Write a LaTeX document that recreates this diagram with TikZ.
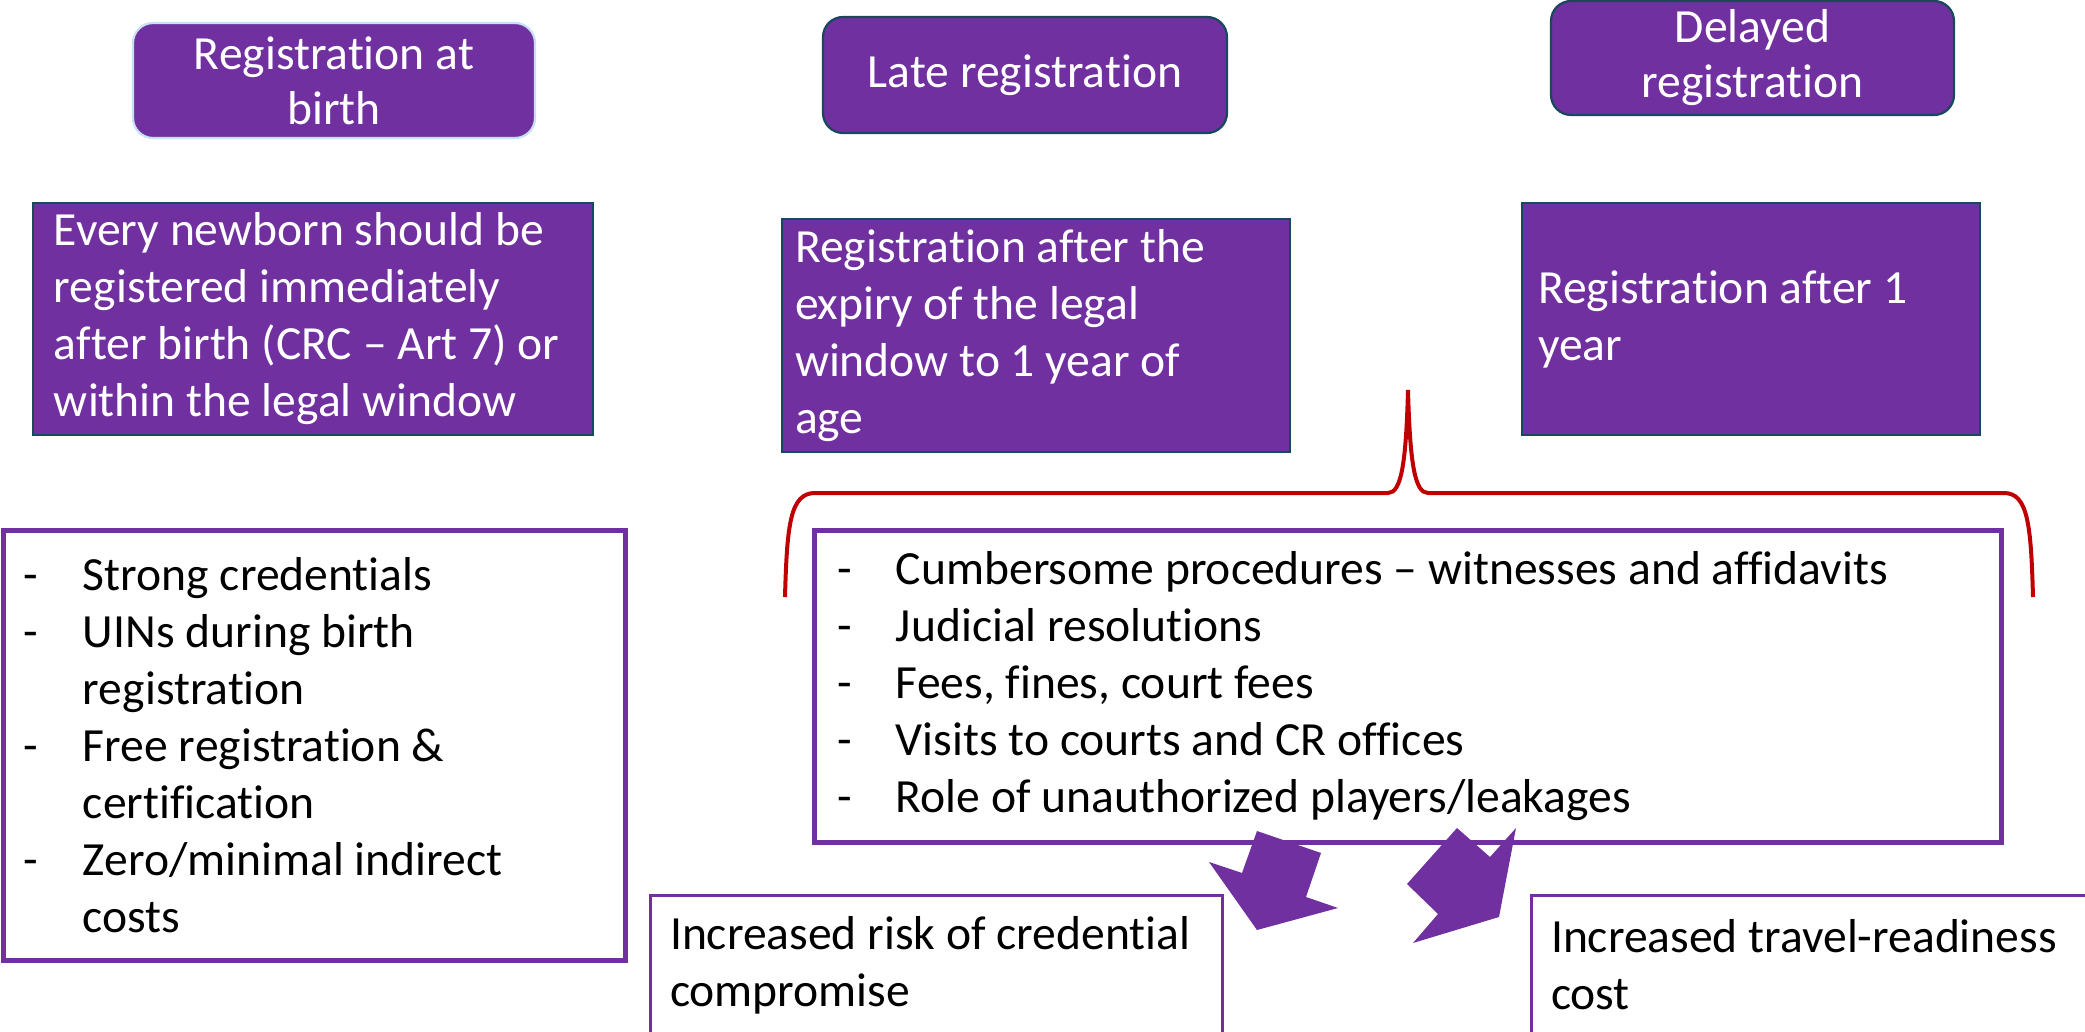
\documentclass[tikz,border=0pt]{standalone}
\usepackage{fontspec}
\setmainfont{Carlito}[Ligatures={TeX,NoCommon}]
\usepackage{tikz}
\definecolor{purp}{RGB}{112,48,160}
\definecolor{edgeblue}{RGB}{24,72,92}
\definecolor{paleblue}{RGB}{200,224,244}
\definecolor{bracered}{RGB}{192,0,0}
\newcommand{\bodyfont}{\fontsize{23.8}{28.5}\selectfont\hyphenpenalty=10000}
\newcommand{\dsh}{\makebox[29.5pt][l]{-}}
\newcommand{\dshgap}{\hspace*{29.5pt}}
\tikzset{
  % rounded title boxes
  hdr/.style={rectangle, rounded corners=10pt, draw=edgeblue, line width=1.1pt, fill=purp,
              text=white, align=flush center, inner sep=0pt, font=\fontsize{23.8}{27.5}\selectfont},
  % filled definition boxes
  defn/.style={rectangle, draw=edgeblue, line width=0.8pt, fill=purp, text=white,
               align=flush left, inner ysep=0pt, font=\bodyfont},
  % white lists of consequences
  lst/.style={rectangle, draw=purp, line width=2.5pt, fill=white, align=flush left,
              inner ysep=0pt, font=\bodyfont},
  res/.style={rectangle, draw=purp, line width=1.5pt, fill=white, align=flush left,
              inner xsep=10pt, inner ysep=0pt, font=\bodyfont},
  blk/.style={fill=purp, draw=none},
  brc/.style={draw=bracered, line width=2pt}
}

\begin{document}
\begin{tikzpicture}[x=0.5pt, y=-0.5pt]
    \useasboundingbox (0,0) rectangle (2085,1032);
    \clip (0,0) rectangle (2085,1032);

    % --- the three kinds of registration ---
    \node[hdr, draw=paleblue, minimum width=201pt, minimum height=57.5pt] (hBirth) at (334,80.5)
      {Registration at\\birth};
    \node[hdr, minimum width=202pt, minimum height=58pt] (hLate) at (1025,75) {Late registration};
    \node[hdr, minimum width=201.5pt, minimum height=57pt] (hDelay) at (1752.5,58)
      {Delayed\\registration};

    % --- what each one means ---
    \node[defn, inner xsep=10.5pt, text width=259pt, minimum height=116pt] (dBirth) at (313,319)
      {Every newborn should be\\registered immediately\\after birth (CRC – Art 7) or\\within the legal window};
    \node[defn, inner xsep=6.5pt, text width=241pt, minimum height=116.5pt] (dLate) at (1036,335.5)
      {Registration after the\\expiry of the legal\\window to 1 year of\\age};
    \node[defn, inner xsep=8pt, text width=213pt, minimum height=116pt] (dDelay) at (1751,319)
      {Registration after 1\\year};

    % --- consequences ---
    \node[lst, inner xsep=10.5pt, text width=290pt, minimum height=215pt] (lBirth) at (314,745)
      {\dsh Strong credentials\\\dsh UINs during birth\\\dshgap registration\\
       \dsh Free registration \&\\\dshgap certification\\\dsh Zero/minimal indirect\\\dshgap costs};
    \node[lst, inner xsep=11.5pt, text width=570.5pt, minimum height=156pt] (lLate) at (1407.5,686)
      {\dsh Cumbersome procedures – witnesses and affidavits\\\dsh Judicial resolutions\\
       \dsh Fees, fines, court fees\\\dsh Visits to courts and CR offices\\
       \dsh Role of unauthorized players/leakages};

    % --- brace over late + delayed ---
    \draw[brc] (785,597) .. controls (787,525) and (790,493) .. (815,493) -- (1388,493)
      .. controls (1401,493) and (1406,465) .. (1408,390)
      .. controls (1410,465) and (1415,493) .. (1428,493) -- (2004,493)
      .. controls (2028,493) and (2031,525) .. (2033,597);

    % --- block arrows ---
    \fill[blk] (1257,831) -- (1321,853) -- (1306,897) -- (1338,908) -- (1257,930)
      -- (1209,862) -- (1242,873) -- cycle;
    \fill[blk] (1457,828) -- (1490,857) -- (1516,828) -- (1499,917) -- (1413,943)
      -- (1438,914) -- (1407,884) -- cycle;

    % --- outcomes ---
    \node[res, text width=266pt, minimum height=70pt] (rRisk) at (936,965)
      {Increased risk of credential\\compromise};
    \node[res, text width=264.5pt, minimum height=70pt] (rTravel) at (1815.5,965)
      {Increased travel-readiness\\cost};
\end{tikzpicture}
\end{document}
